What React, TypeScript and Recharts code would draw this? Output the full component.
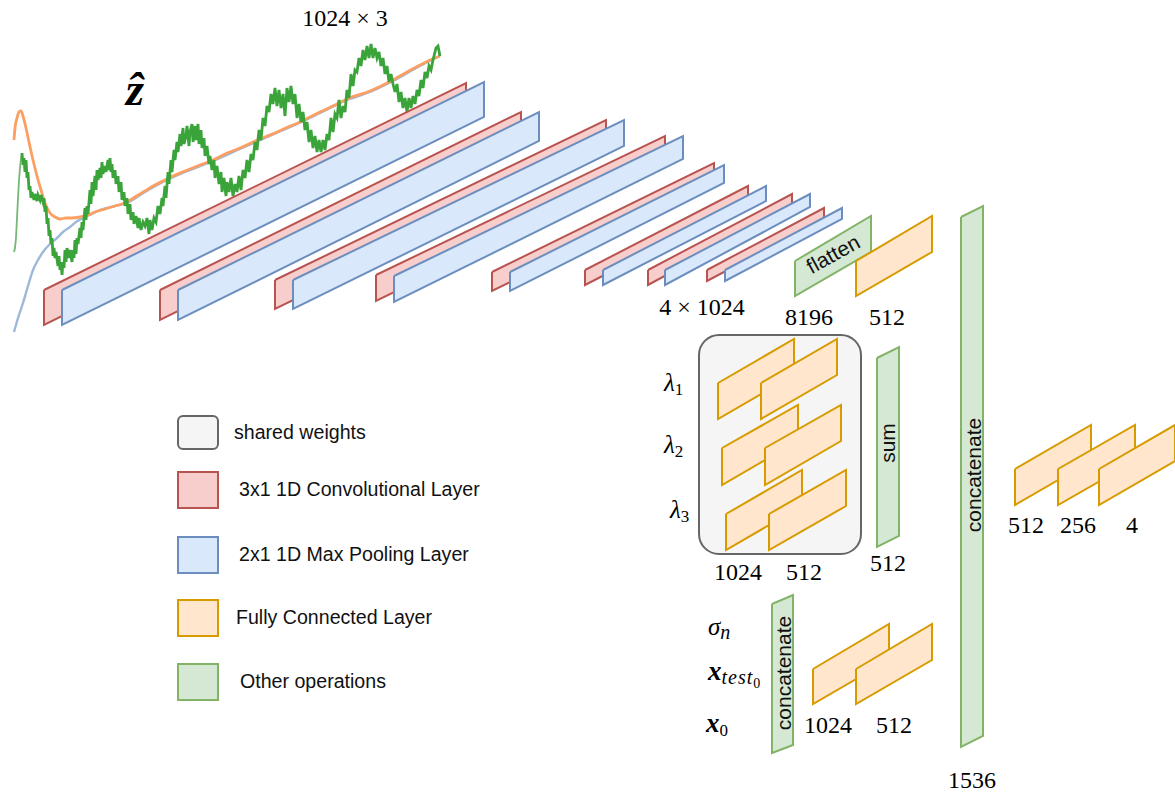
import React from 'react';
import { ComposedChart, XAxis, YAxis, Area, Line, Scatter, ReferenceArea } from 'recharts';

// every value below is in the diagram's own units (1 unit = 1 px of the 1175x794 sheet)
type Quad = [number, number, number, number, number, number]; // xLeft, xRight, topLeft, bottomLeft, topRight, bottomRight

const convLayers: Quad[] = [
  [44, 466, 290, 325, 83, 117],
  [160, 521, 290, 320, 112, 142],
  [275, 606, 280, 309, 120, 147],
  [376, 665, 275, 301, 136, 160],
  [492, 714, 272, 291, 163, 182],
  [585, 748, 270, 285, 186, 201],
  [648, 792, 270, 285, 194, 207],
  [707, 824, 270, 281, 208, 219],
];
const poolLayers: Quad[] = [
  [62, 484, 290, 325, 82, 117],
  [178, 539, 290, 320, 112, 141],
  [293, 624, 280, 309, 120, 146],
  [394, 683, 276, 302, 136, 159],
  [510, 724, 272, 291, 165, 183],
  [603, 766, 270, 285, 186, 201],
  [665, 810, 270, 285, 194, 207],
  [725, 842, 270, 281, 208, 219],
];
const otherOps: Quad[] = [
  [795, 871, 261, 296, 216, 252],
  [877, 899, 358, 547, 347, 536],
  [772, 793, 604, 753, 595, 745],
  [961, 983, 217, 747, 206, 736],
];
const denseLayers: Quad[] = [
  [856, 932, 261, 296, 216, 252],
  [718, 794, 383, 419, 339, 375],
  [761, 837, 383, 419, 339, 375],
  [722, 798, 448, 485, 405, 441],
  [765, 841, 448, 485, 405, 441],
  [726, 802, 514, 550, 470, 506],
  [769, 846, 514, 550, 470, 506],
  [813, 889, 669, 704, 624, 660],
  [856, 932, 669, 704, 624, 660],
  [1015, 1091, 469, 505, 425, 461],
  [1058, 1135, 469, 505, 425, 461],
  [1099, 1175, 469, 505, 425, 461],
];

const orangeCurve = [
  [14, 140], [15, 128], [17, 118], [19, 112], [21, 111], [23, 116], [26, 128], [29, 142], [33, 160], [37, 176],
  [41, 190], [45, 203], [50, 213], [55, 217], [60, 219], [66, 218], [72, 218], [80, 217], [88, 215], [95, 212],
  [105, 209], [115, 206], [127, 202], [135, 197], [145, 191], [155, 185], [165, 180], [173, 176], [185, 171], [200, 165],
  [213, 160], [225, 154], [240, 148], [253, 142], [265, 137], [277, 132], [288, 127], [300, 122], [320, 112],
  [335, 105], [347, 99], [370, 91], [393, 80], [407, 72], [420, 65], [430, 60], [440, 56],
];
const blueCurve = [
  [14, 332], [18, 318], [23, 303], [28, 286], [33, 270], [38, 260], [43, 252], [50, 244], [57, 238], [63, 232],
  [70, 227], [76, 222], [83, 218], [92, 214], [100, 210], [115, 206], [127, 203], [145, 192], [165, 181], [185, 172],
  [213, 161], [240, 149], [265, 138], [288, 128], [320, 113], [347, 100], [370, 92], [393, 81], [420, 66], [440, 56],
];
const greenRise = [
  [14, 252], [15, 248], [16, 238], [17, 218], [18, 198], [19, 180], [20, 168], [21, 158], [22, 153],
];
const greenWalk = [
  [22, 153], [23, 165], [24, 158], [25, 172], [26, 160], [27, 178], [28, 172], [29, 190], [30, 186], [31, 198],
  [32, 192], [34, 200], [35, 194], [37, 201], [38, 195], [40, 200], [41, 195], [43, 202], [44, 198], [45, 212],
  [46, 206], [47, 224], [48, 218], [49, 236], [50, 230], [51, 244], [52, 238], [53, 256], [54, 248], [55, 258],
  [56, 252], [58, 266], [59, 256], [60, 270], [61, 262], [62, 275], [63, 262], [64, 268], [65, 250], [66, 262],
  [67, 248], [69, 258], [70, 250], [72, 262], [73, 250], [74, 258], [75, 240], [76, 254], [77, 238], [78, 244],
  [80, 228], [81, 238], [82, 222], [83, 230], [85, 208], [86, 220], [87, 206], [88, 214], [90, 190], [91, 204],
  [92, 182], [93, 196], [95, 176], [96, 190], [97, 170], [98, 180], [100, 168], [101, 178], [102, 162], [103, 174],
  [105, 166], [106, 172], [108, 160], [109, 170], [110, 158], [111, 172], [112, 164], [113, 178], [115, 170], [116, 184],
  [118, 176], [119, 192], [121, 182], [122, 200], [124, 192], [125, 206], [127, 198], [128, 214], [130, 204], [131, 220],
  [133, 212], [134, 224], [136, 216], [138, 228], [139, 218], [141, 230], [143, 222], [145, 226], [147, 218], [149, 234],
  [150, 220], [152, 230], [154, 218], [156, 222], [158, 206], [160, 214], [162, 198], [163, 206], [165, 186], [166, 198],
  [168, 172], [169, 184], [171, 160], [172, 172], [174, 150], [175, 160], [177, 142], [178, 152], [180, 134], [181, 146],
  [183, 128], [184, 144], [186, 136], [187, 126], [189, 146], [190, 132], [192, 124], [193, 142], [195, 126], [196, 140],
  [198, 124], [199, 144], [201, 130], [202, 148], [204, 138], [205, 156], [207, 146], [209, 164], [210, 156], [212, 170],
  [214, 160], [215, 178], [217, 166], [219, 184], [221, 172], [222, 192], [224, 178], [226, 196], [227, 182], [229, 192],
  [231, 178], [233, 196], [235, 184], [237, 192], [239, 176], [241, 190], [243, 170], [245, 178], [247, 160], [249, 172],
  [251, 154], [253, 160], [255, 142], [257, 150], [259, 130], [261, 140], [263, 118], [265, 126], [267, 106], [269, 112],
  [271, 94], [273, 104], [275, 88], [277, 106], [279, 90], [281, 108], [283, 94], [285, 116], [287, 88], [289, 102],
  [291, 86], [293, 104], [295, 94], [297, 118], [299, 104], [301, 122], [303, 112], [305, 130], [307, 122], [309, 142],
  [311, 130], [313, 148], [315, 136], [317, 152], [319, 140], [321, 152], [323, 140], [325, 150], [327, 134], [329, 140],
  [331, 118], [333, 132], [335, 114], [337, 118], [339, 100], [341, 118], [343, 106], [345, 112], [347, 90], [349, 98],
  [351, 74], [353, 86], [355, 70], [357, 72], [359, 58], [361, 66], [363, 50], [365, 60], [367, 46], [369, 58],
  [371, 44], [373, 58], [375, 48], [377, 58], [379, 52], [381, 66], [383, 58], [385, 74], [387, 66], [389, 82],
  [391, 74], [393, 84], [395, 92], [397, 84], [399, 102], [401, 92], [403, 108], [405, 98], [407, 112], [409, 98],
  [411, 108], [413, 96], [415, 104], [417, 90], [419, 96], [421, 80], [423, 88], [425, 72], [427, 78], [429, 66],
  [431, 70], [433, 60], [435, 52], [436, 48], [438, 46], [440, 56],
];

const numberLabels = [
  { x: 345, y: 26, text: '1024 × 3' },
  { x: 702, y: 315, text: '4 × 1024' },
  { x: 809, y: 325, text: '8196' },
  { x: 887, y: 325, text: '512' },
  { x: 738, y: 580, text: '1024' },
  { x: 804, y: 580, text: '512' },
  { x: 888, y: 571, text: '512' },
  { x: 828, y: 733, text: '1024' },
  { x: 894, y: 733, text: '512' },
  { x: 972, y: 788, text: '1536' },
  { x: 1026, y: 533, text: '512' },
  { x: 1078, y: 533, text: '256' },
  { x: 1132, y: 533, text: '4' },
];
const symbolLabels = [
  { x: 664, y: 391, main: 'λ', sub: '1', bold: false },
  { x: 664, y: 453, main: 'λ', sub: '2', bold: false },
  { x: 670, y: 518, main: 'λ', sub: '3', bold: false },
  { x: 708, y: 635, main: 'σ', sub: 'n', bold: false },
  { x: 708, y: 680, main: 'x', sub: 'test', subsub: '0', bold: true },
  { x: 706, y: 732, main: 'x', sub: '0', bold: true },
];
const legendLabels = [
  { x: 234, y: 439, text: 'shared weights' },
  { x: 239, y: 496, text: '3x1 1D Convolutional Layer' },
  { x: 239, y: 561, text: '2x1 1D Max Pooling Layer' },
  { x: 236, y: 624, text: 'Fully Connected Layer' },
  { x: 240, y: 688, text: 'Other operations' },
];
const opLabels = [
  { x: 833, y: 254, text: 'flatten', angle: -29 },
  { x: 887, y: 443, text: 'sum', angle: -90 },
  { x: 783, y: 673, text: 'concatenate', angle: -90 },
  { x: 973, y: 475, text: 'concatenate', angle: -90 },
];
const hatLabel = [{ x: 135, y: 105, text: 'ẑ' }];

const sharedBox = { x1: 699, x2: 861, y1: 335, y2: 554 };
const legendSwatches = [
  { kind: 'shared', y1: 416, y2: 449 },
  { kind: 'conv', y1: 472, y2: 508 },
  { kind: 'pool', y1: 537, y2: 573 },
  { kind: 'dense', y1: 600, y2: 636 },
  { kind: 'other', y1: 664, y2: 700 },
];

const palette: Record<string, { fill: string; stroke: string }> = {
  shared: { fill: '#f5f5f5', stroke: '#666666' },
  conv: { fill: '#f8cecc', stroke: '#b85450' },
  pool: { fill: '#dae8fc', stroke: '#6c8ebf' },
  dense: { fill: '#ffe6cc', stroke: '#d79b00' },
  other: { fill: '#d5e8d4', stroke: '#82b366' },
};

const SERIF = '"Liberation Serif", serif';
const SANS = '"Liberation Sans", sans-serif';

const toPoints = (pairs: number[][]) => pairs.map(([x, y]) => ({ x, y }));

const NumberText = ({ cx, cy, payload }: any) => (
  <text x={cx} y={cy} textAnchor="middle" fontFamily={SERIF} fontSize={24} fill="#000">
    {payload.text}
  </text>
);

const SymbolText = ({ cx, cy, payload }: any) => {
  const isDigit = /^[0-9]$/.test(payload.sub);
  return (
    <text x={cx} y={cy} fontFamily={SERIF} fontSize={payload.bold ? 27 : 25} fontStyle="italic" fontWeight={payload.bold ? 700 : 400} fill="#000">
      {payload.main}
      <tspan fontSize={isDigit ? 17 : 20} dy={4} fontWeight={400} fontStyle={isDigit ? 'normal' : 'italic'} letterSpacing={isDigit ? 0 : 1}>
        {payload.sub}
      </tspan>
      {payload.subsub && <tspan fontSize={14} dy={4} fontWeight={400} fontStyle="normal">{payload.subsub}</tspan>}
    </text>
  );
};

const LegendText = ({ cx, cy, payload }: any) => (
  <text x={cx} y={cy} fontFamily={SANS} fontSize={19.6} fill="#111">
    {payload.text}
  </text>
);

const OpText = ({ cx, cy, payload }: any) => (
  <text
    x={cx}
    y={cy}
    textAnchor="middle"
    dominantBaseline="central"
    transform={`rotate(${payload.angle} ${cx} ${cy})`}
    fontFamily={SANS}
    fontSize={21}
    fill="#111"
  >
    {payload.text}
  </text>
);

const HatText = ({ cx, cy, payload }: any) => (
  <text x={cx} y={cy} textAnchor="middle" fontFamily={SERIF} fontSize={47} fontStyle="italic" fontWeight={700} fill="#000">
    {payload.text}
  </text>
);

let z = 10;

function drawQuad(q: Quad, kind: string, key: string) {
  const [x0, x1, tl, bl, tr, br] = q;
  const band = [
    { x: x0, band: [bl, tl] },
    { x: x1, band: [br, tr] },
  ];
  const outline = [
    { x: x0, y: tl },
    { x: x1, y: tr },
    { x: x1, y: br },
    { x: x0, y: bl },
    { x: x0, y: tl },
  ];
  const { fill, stroke } = palette[kind];
  const zFill = z++;
  const zLine = z++;
  return (
    <React.Fragment key={key}>
      <Area
        data={band}
        dataKey="band"
        type="linear"
        fill={fill}
        fillOpacity={1}
        stroke="none"
        dot={false}
        activeDot={false}
        isAnimationActive={false}
        zIndex={zFill}
      />
      <Line
        data={outline}
        dataKey="y"
        type="linear"
        stroke={stroke}
        strokeWidth={2}
        dot={false}
        activeDot={false}
        isAnimationActive={false}
        zIndex={zLine}
      />
    </React.Fragment>
  );
}

export default function App() {
  z = 10;
  return (
    <div style={{ position: 'absolute', left: 0, top: 0, width: 1175, height: 794, background: '#fff' }}>
      <ComposedChart width={1175} height={794} margin={{ top: 0, right: 0, bottom: 0, left: 0 }}>
        <XAxis type="number" dataKey="x" domain={[0, 1175]} hide allowDataOverflow />
        <YAxis type="number" dataKey="y" domain={[0, 794]} reversed hide allowDataOverflow />

        <Line data={toPoints(blueCurve)} type="monotone" dataKey="y" stroke="#9db8d8" strokeWidth={2.4} dot={false} activeDot={false} isAnimationActive={false} zIndex={1} />
        <Line data={toPoints(orangeCurve)} type="monotone" dataKey="y" stroke="#fb9f63" strokeWidth={2.8} dot={false} activeDot={false} isAnimationActive={false} zIndex={2} />
        <Line data={toPoints(greenRise)} dataKey="y" stroke="#74b874" strokeWidth={1.8} dot={false} activeDot={false} isAnimationActive={false} zIndex={3} />
        <Line data={toPoints(greenWalk)} dataKey="y" stroke="#3aa33a" strokeWidth={2.8} dot={false} activeDot={false} isAnimationActive={false} zIndex={4} />

        {convLayers.map((q, i) => drawQuad(q, 'conv', `conv-${i}`))}
        {poolLayers.map((q, i) => drawQuad(q, 'pool', `pool-${i}`))}
        {otherOps.map((q, i) => drawQuad(q, 'other', `other-${i}`))}

        <ReferenceArea
          {...sharedBox}
          fill={palette.shared.fill}
          fillOpacity={1}
          stroke={palette.shared.stroke}
          strokeWidth={2}
          radius={20}
          ifOverflow="visible"
          zIndex={z++}
        />
        {denseLayers.map((q, i) => drawQuad(q, 'dense', `dense-${i}`))}

        {legendSwatches.map((s) => (
          <ReferenceArea
            key={s.kind}
            x1={178}
            x2={218}
            y1={s.y1}
            y2={s.y2}
            fill={palette[s.kind].fill}
            fillOpacity={1}
            stroke={palette[s.kind].stroke}
            strokeWidth={2}
            radius={s.kind === 'shared' ? 5 : 0}
            ifOverflow="visible"
            zIndex={z++}
          />
        ))}

        <Scatter data={numberLabels} dataKey="y" shape={NumberText} isAnimationActive={false} zIndex={2000} />
        <Scatter data={symbolLabels} dataKey="y" shape={SymbolText} isAnimationActive={false} zIndex={2000} />
        <Scatter data={legendLabels} dataKey="y" shape={LegendText} isAnimationActive={false} zIndex={2000} />
        <Scatter data={opLabels} dataKey="y" shape={OpText} isAnimationActive={false} zIndex={2000} />
        <Scatter data={hatLabel} dataKey="y" shape={HatText} isAnimationActive={false} zIndex={2000} />
      </ComposedChart>
    </div>
  );
}
